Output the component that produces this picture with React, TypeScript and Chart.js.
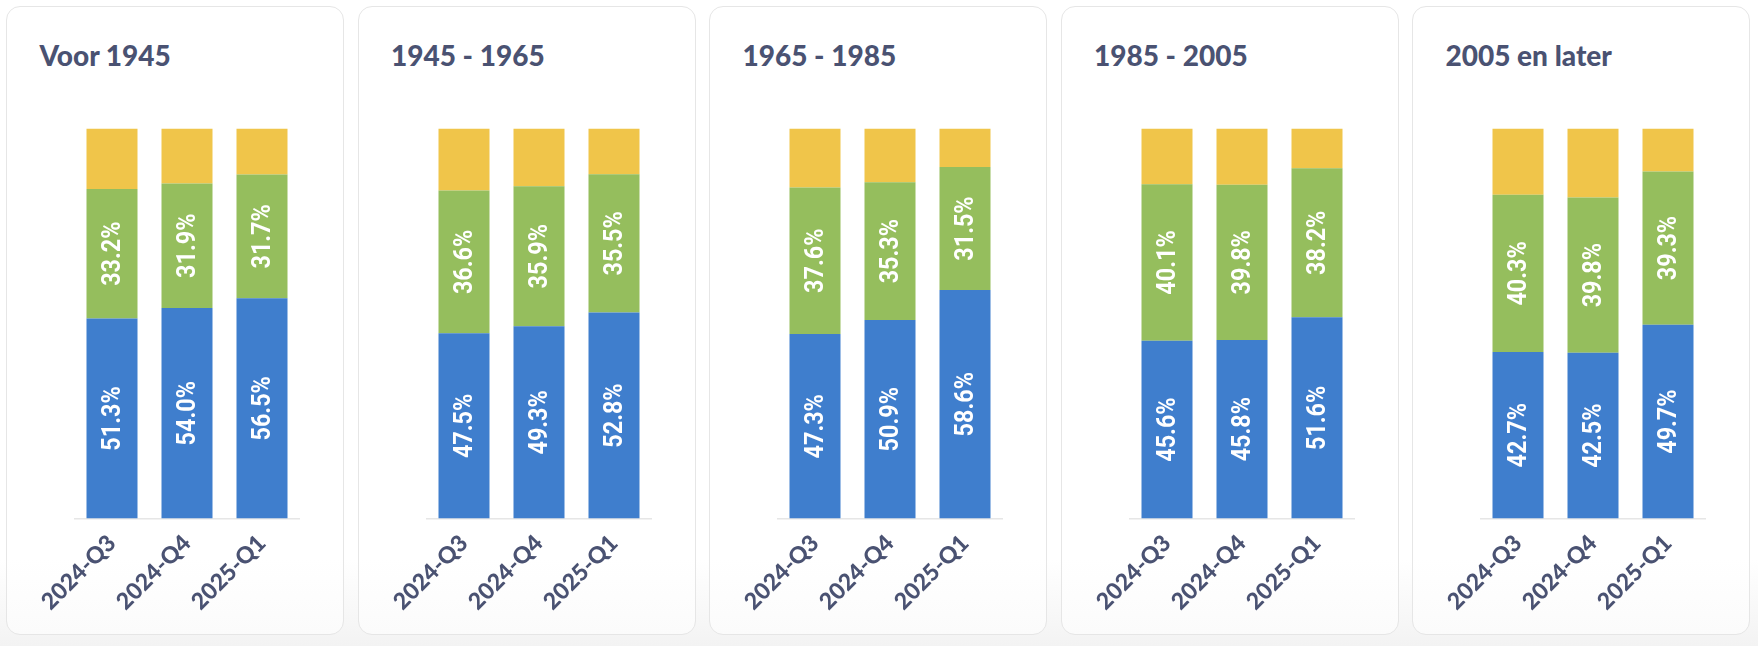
import React, { useEffect, useRef } from "react";
import { Chart, registerables, Plugin } from "chart.js";

Chart.register(...registerables);

// quarters on the x axis
const quarters = ["2024-Q3", "2024-Q4", "2025-Q1"];

// construction-period panels
const periods = ["Voor 1945", "1945 - 1965", "1965 - 1985", "1985 - 2005", "2005 en later"];

// share per quarter (%), one array per panel and segment
const blueVoor1945 = [51.3, 54.0, 56.5];
const greenVoor1945 = [33.2, 31.9, 31.7];
const yellowVoor1945 = [15.5, 14.1, 11.8];

const blue1945 = [47.5, 49.3, 52.8];
const green1945 = [36.6, 35.9, 35.5];
const yellow1945 = [15.9, 14.8, 11.7];

const blue1965 = [47.3, 50.9, 58.6];
const green1965 = [37.6, 35.3, 31.5];
const yellow1965 = [15.1, 13.8, 9.9];

const blue1985 = [45.6, 45.8, 51.6];
const green1985 = [40.1, 39.8, 38.2];
const yellow1985 = [14.3, 14.4, 10.2];

const blue2005 = [42.7, 42.5, 49.7];
const green2005 = [40.3, 39.8, 39.3];
const yellow2005 = [17.0, 17.7, 11.0];

const panelSeries = [
  [blueVoor1945, greenVoor1945, yellowVoor1945],
  [blue1945, green1945, yellow1945],
  [blue1965, green1965, yellow1965],
  [blue1985, green1985, yellow1985],
  [blue2005, green2005, yellow2005],
];

const colors = ["#3f7ecd", "#95be5d", "#f0c54a"];

// draws the rotated percentage labels inside the blue and green segments
const barLabels: Plugin<"bar"> = {
  id: "barLabels",
  afterDatasetsDraw(chart) {
    const ctx = chart.ctx;
    ctx.save();
    ctx.fillStyle = "#ffffff";
    ctx.font = 'bold 26px Roboto, "Liberation Sans", sans-serif';
    ctx.textAlign = "center";
    ctx.textBaseline = "middle";
    [0, 1].forEach((di) => {
      const meta = chart.getDatasetMeta(di);
      meta.data.forEach((el: any, i) => {
        const v = chart.data.datasets[di].data[i] as number;
        const { x, y, base } = el.getProps(["x", "y", "base"], true);
        ctx.save();
        ctx.translate(x, (y + base) / 2);
        ctx.rotate(-Math.PI / 2);
        ctx.scale(0.9, 1); // narrow the text like a condensed face
        ctx.fillText(v.toFixed(1) + "%", 0, 1);
        ctx.restore();
      });
    });
    ctx.restore();
  },
};

const Panel: React.FC<{ title: string; series: number[][] }> = ({ title, series }) => {
  const chartRef = useRef<HTMLCanvasElement | null>(null);
  const chartInstance = useRef<Chart | null>(null);

  useEffect(() => {
    if (!chartRef.current) return;
    if (chartInstance.current) chartInstance.current.destroy();

    chartInstance.current = new Chart(chartRef.current, {
      type: "bar",
      data: {
        labels: quarters,
        datasets: series.map((data, i) => ({
          data,
          backgroundColor: colors[i],
          barPercentage: 0.85,
          categoryPercentage: 0.8,
        })),
      },
      options: {
        animation: false,
        responsive: true,
        maintainAspectRatio: false,
        layout: { padding: { left: 67.5, right: 42.5, top: 121.5, bottom: 0 } },
        plugins: {
          legend: { display: false },
          tooltip: { enabled: false },
        },
        scales: {
          x: {
            stacked: true,
            grid: { display: false },
            border: { color: "#e6e6e6", width: 1.5 },
            afterFit: (scale) => {
              scale.height = 114.5;
            },
            ticks: {
              color: "#4a5272",
              font: { family: "Lato", weight: 900, size: 23 },
              minRotation: 45,
              maxRotation: 45,
            },
          },
          y: {
            stacked: true,
            display: false,
            min: 0,
            max: 100,
          },
        },
      },
      plugins: [barLabels],
    });

    return () => {
      if (chartInstance.current) {
        chartInstance.current.destroy();
        chartInstance.current = null;
      }
    };
  }, [series]);

  return (
    <div
      style={{
        position: "relative",
        boxSizing: "border-box",
        width: 338,
        height: 629,
        border: "1.5px solid #e6e6e6",
        borderRadius: 14,
        background: "linear-gradient(#ffffff 88%, #fbfbfb)",
        flex: "0 0 auto",
      }}
    >
      <div
        style={{
          position: "absolute",
          left: 32.5,
          top: 33.5,
          fontFamily: "Lato, sans-serif",
          fontWeight: 900,
          fontSize: 28,
          lineHeight: "28px",
          color: "#4a5272",
          whiteSpace: "nowrap",
        }}
      >
        {title}
      </div>
      <div style={{ position: "absolute", left: 0, top: 0, width: 335, height: 626 }}>
        <canvas ref={chartRef} />
      </div>
    </div>
  );
};

const App: React.FC = () => {
  return (
    <div
      style={{
        position: "absolute",
        left: 0,
        top: 0,
        width: 1758,
        height: 646,
        background: "linear-gradient(#ffffff 560px, #f3f3f3 646px)",
        boxSizing: "border-box",
        padding: "6px 0 0 6px",
        display: "flex",
        gap: 13.5,
        overflow: "hidden",
      }}
    >
      {periods.map((p, i) => (
        <Panel key={p} title={p} series={panelSeries[i]} />
      ))}
    </div>
  );
};

export default App;
